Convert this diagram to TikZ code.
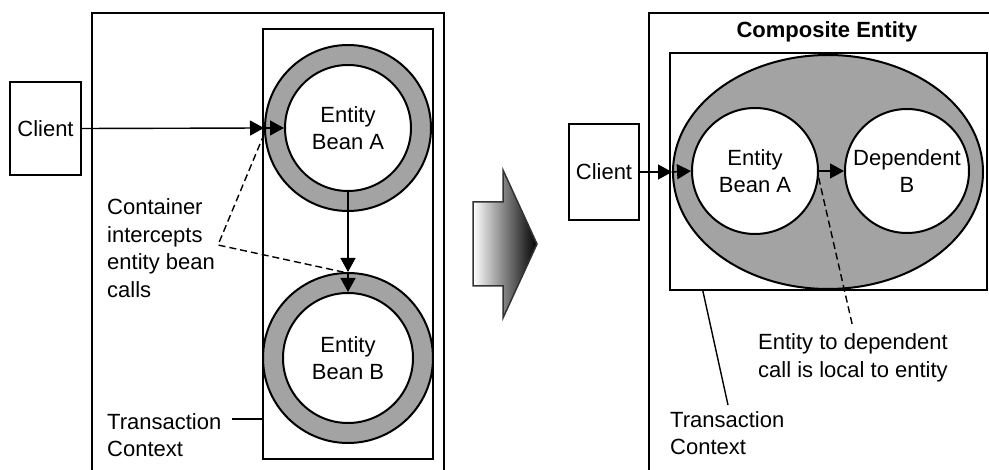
\documentclass[tikz,border=0pt]{standalone}
\usepackage{fontspec}
\setmainfont{Liberation Sans}
\usetikzlibrary{arrows.meta,shapes.geometric}

\begin{document}
\begin{tikzpicture}[x=1pt,y=1pt]
    \tikzstyle{every node}+=[inner sep=0pt, font=\fontsize{22}{27.5}\selectfont]
    \tikzstyle{box}=[draw, rectangle, line width=2.2pt]
    \tikzstyle{ring}=[draw, circle, line width=2pt, fill=black!36]
    \tikzstyle{bean}=[draw, circle, line width=2pt, fill=white, align=center]
    \tikzstyle{call}=[line width=1.4pt, -{Triangle[length=14pt,width=15pt]}]
    \tikzstyle{note}=[line width=1.4pt, dash pattern=on 7pt off 4pt]
    \useasboundingbox (0,0) rectangle (989,-470);
    \clip (0,0) rectangle (989,-470);

    % before: each entity bean on its own
    \draw [box] (92,-13) rectangle (444,-490);
    \node [box, minimum width=170pt, minimum height=430pt] (txL) at (348,-244) {};
    \node [box, minimum width=71pt, minimum height=93pt] (clientL) at (45.5,-128.5) {Client};
    \node [ring, minimum size=166pt] (ringA) at (348,-128) {};
    \node [bean, minimum size=126pt] (beanA) at (348,-128) {Entity\\Bean A};
    \node [ring, minimum size=170pt] (ringB) at (348,-358) {};
    \node [bean, minimum size=130pt] (beanB) at (348,-358) {Entity\\Bean B};
    \draw [call] (clientL.east) -- (ringA.west);
    \draw [call] (ringA.west) -- (beanA.west);
    \draw [call] (beanA.south) -- (ringB.north);
    \draw [call] (ringB.north) -- (beanB.north);
    \node [anchor=west, align=left] (contL) at (107,-248) {Container\\intercepts\\entity bean\\calls};
    \coordinate (bendL) at (218,-245);
    \draw [note] (ringA.184) -- (bendL) -- (ringB.93);
    \node [anchor=west, align=left] (tcL) at (107,-435) {Transaction\\Context};
    \coordinate (tcLtip) at (232,-419);
    \draw [line width=1.4pt] (tcLtip) -- (tcLtip -| txL.west);

    % the big arrow
    \shadedraw [left color=white, right color=black, draw=black!80, line width=1.5pt]
        (473,-202) -- (503,-202) -- (503,-170) -- (537,-244) -- (503,-318) -- (503,-286) -- (473,-286) -- cycle;

    % after: composite entity
    \draw [box] (649,-13) rectangle (1010,-490);
    \node [font=\bfseries\fontsize{22}{27.5}\selectfont] (title) at (827,-32) {Composite Entity};
    \node [box, minimum width=317pt, minimum height=237pt] (txR) at (828.5,-171.5) {};
    \node [ellipse, draw, line width=2pt, fill=black!36, minimum width=310pt, minimum height=234pt] (compR) at (828,-172) {};
    \node [bean, minimum size=126pt] (beanRA) at (755,-171) {Entity\\Bean A};
    \node [bean, minimum size=124pt] (depB) at (907,-171) {Dependent\\B};
    \node [box, minimum width=70pt, minimum height=96pt] (clientR) at (604,-172) {Client};
    \draw [call] (clientR.east) -- (compR.west);
    \draw [call] (compR.west) -- (beanRA.west);
    \draw [call] (beanRA.east) -- (depB.west);
    \node [align=center] (noteR) at (853,-358) {Entity to dependent\\call is local to entity};
    \draw [note] (beanRA.-6) -- ([yshift=6pt]noteR.north);
    \node [anchor=west, align=left] (tcR) at (670,-433) {Transaction\\Context};
    \coordinate (tcRtip) at (728,-405);
    \draw [line width=1.4pt] (tcRtip) -- ([xshift=34pt]txR.south west);
\end{tikzpicture}
\end{document}
